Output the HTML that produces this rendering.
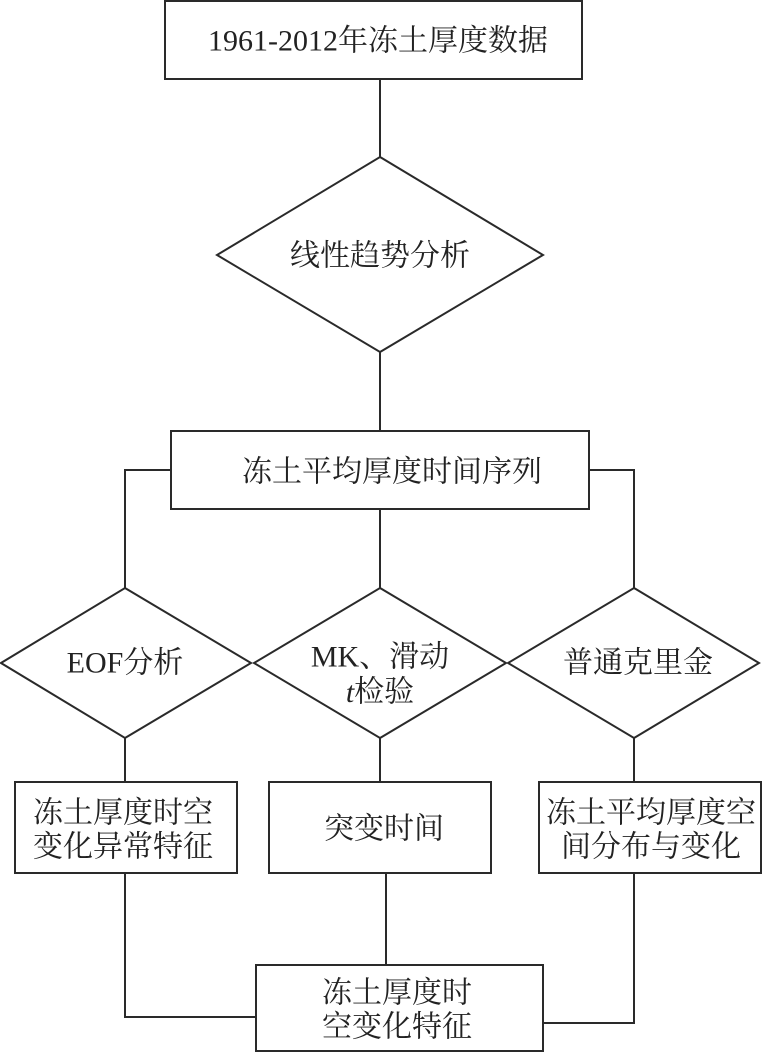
<!DOCTYPE html>
<html><head><meta charset="utf-8"><style>
html,body{margin:0;padding:0;background:#fff;}
svg{display:block;}
text{font-family:"Liberation Serif","Noto Serif CJK SC",serif;font-size:30px;fill:#222;text-anchor:middle;dominant-baseline:central;}
</style></head><body>
<svg width="762" height="1052" viewBox="0 0 762 1052" xmlns="http://www.w3.org/2000/svg">
<g stroke="#2a2a2a" stroke-width="2" fill="none">
<rect x="165" y="1" width="417" height="78"/>
<line x1="380" y1="79" x2="380" y2="157"/>
<polygon points="380,157 543,255 380,352 217,255" fill="#fff"/>
<line x1="380" y1="352" x2="380" y2="431"/>
<rect x="171" y="431" width="418" height="78"/>
<polyline points="171,470 125,470 125,588"/>
<polyline points="589,470 634,470 634,588"/>
<line x1="380" y1="509" x2="380" y2="588"/>
<polygon points="125,588 251,663 125,738 1,663"/>
<polygon points="380,588 506,663 380,738 254,663"/>
<polygon points="634,588 759,663 634,738 508,663"/>
<line x1="125" y1="738" x2="125" y2="782"/>
<line x1="380" y1="738" x2="380" y2="782"/>
<line x1="634" y1="738" x2="634" y2="782"/>
<rect x="15" y="782" width="222" height="91"/>
<rect x="269" y="782" width="222" height="91"/>
<rect x="539" y="782" width="222" height="91"/>
<polyline points="125,873 125,1017 256,1017"/>
<line x1="386" y1="873" x2="386" y2="965"/>
<polyline points="634,873 634,1023 543,1023"/>
<rect x="256" y="965" width="287" height="86"/>
</g>
<text x="378" y="41">1961-2012年冻土厚度数据</text>
<text x="380" y="256">线性趋势分析</text>
<text x="392" y="472">冻土平均厚度时间序列</text>
<text x="125" y="663">EOF分析</text>
<text x="380" y="657">MK、滑动</text>
<text x="380" y="692"><tspan font-style="italic">t</tspan>检验</text>
<text x="638" y="663">普通克里金</text>
<text x="123" y="813">冻土厚度时空</text>
<text x="123" y="847">变化异常特征</text>
<text x="384" y="829">突变时间</text>
<text x="651" y="813">冻土平均厚度空</text>
<text x="651" y="847">间分布与变化</text>
<text x="397" y="993">冻土厚度时</text>
<text x="397" y="1027">空变化特征</text>
</svg>
</body></html>
